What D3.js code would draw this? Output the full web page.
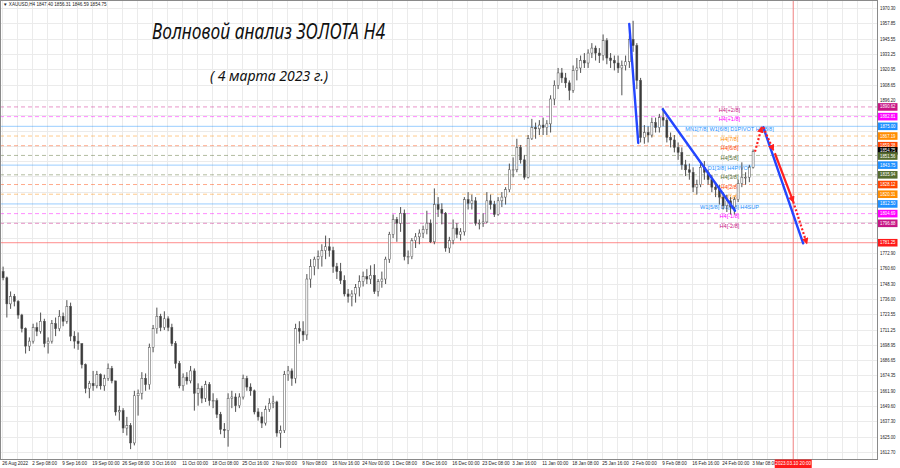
<!DOCTYPE html>
<html><head><meta charset="utf-8">
<script src="https://cdn.jsdelivr.net/npm/d3@7"></script>
<style>body{margin:0;background:#fff;} svg{display:block;}</style>
</head><body>
<svg id="c" width="900" height="468"></svg>
<script>
// ---------- DATA ----------
const timeLabels = ["26 Aug 2022","2 Sep 08:00","9 Sep 16:00","19 Sep 00:00","26 Sep 08:00","3 Oct 16:00","11 Oct 00:00","18 Oct 08:00","25 Oct 16:00","2 Nov 00:00","9 Nov 08:00","16 Nov 16:00","24 Nov 00:00","1 Dec 08:00","8 Dec 16:00","16 Dec 00:00","23 Dec 08:00","3 Jan 16:00","11 Jan 00:00","18 Jan 08:00","25 Jan 16:00","2 Feb 00:00","9 Feb 08:00","16 Feb 16:00","24 Feb 00:00","3 Mar 08:00"];
const priceTicks = ["1970.30","1957.85","1945.55","1933.25","1920.95","1908.65","1896.20","1883.90","1871.60","1859.30","1847.00","1834.70","1822.40","1810.10","1797.65","1785.20","1772.90","1760.60","1748.30","1736.00","1723.55","1711.25","1698.95","1686.65","1674.35","1661.90","1649.60","1637.30","1625.00","1612.70"];
// candles (each = 4 H4 bars), high / low / close
const firstOpen = 1758;
const highs = [1762,1754,1742,1740,1735,1724,1713,1705,1716,1717,1725,1720,1705,1719,1721,1727,1725,1735,1733,1710,1709,1700,1684,1670,1678,1678,1676,1675,1684,1682,1668,1650,1648,1641,1636,1662,1663,1677,1676,1700,1715,1729,1724,1726,1722,1716,1702,1686,1676,1677,1682,1680,1668,1666,1670,1669,1660,1656,1645,1636,1660,1662,1660,1660,1675,1674,1668,1663,1648,1645,1650,1656,1658,1654,1634,1678,1682,1680,1716,1718,1718,1756,1768,1770,1775,1780,1787,1785,1778,1765,1765,1755,1744,1743,1748,1755,1758,1760,1763,1764,1752,1758,1770,1790,1804,1802,1810,1808,1775,1785,1789,1792,1795,1807,1800,1825,1818,1813,1806,1786,1800,1797,1793,1818,1822,1820,1818,1800,1805,1822,1820,1815,1818,1822,1826,1845,1850,1865,1860,1852,1868,1881,1878,1880,1882,1880,1900,1912,1922,1922,1918,1912,1924,1930,1932,1934,1937,1942,1940,1938,1949,1946,1934,1932,1932,1928,1932,1948,1960,1942,1914,1876,1875,1882,1882,1885,1890,1882,1870,1868,1862,1858,1848,1845,1842,1832,1846,1847,1840,1836,1830,1828,1822,1820,1818,1818,1832,1846,1838,1844,1856.31];
const lows = [1751,1721,1728,1730,1720,1709,1692,1694,1700,1706,1708,1697,1692,1700,1706,1710,1714,1716,1702,1696,1695,1680,1660,1656,1662,1664,1663,1662,1670,1668,1642,1638,1628,1626,1615,1618,1642,1655,1662,1663,1693,1708,1710,1711,1710,1698,1680,1664,1662,1667,1668,1646,1650,1652,1653,1650,1648,1640,1627,1624,1617,1648,1645,1648,1655,1662,1658,1643,1638,1632,1634,1645,1648,1625,1616,1628,1670,1666,1668,1700,1702,1703,1745,1755,1760,1762,1768,1770,1757,1752,1748,1738,1733,1730,1733,1738,1746,1748,1748,1740,1738,1745,1748,1765,1785,1782,1790,1767,1764,1768,1777,1780,1785,1788,1781,1780,1802,1796,1774,1773,1780,1785,1783,1787,1808,1808,1795,1792,1794,1797,1808,1802,1803,1810,1812,1822,1834,1838,1845,1832,1833,1864,1865,1868,1868,1868,1870,1892,1905,1910,1906,1896,1902,1912,1918,1922,1922,1930,1928,1926,1928,1925,1922,1920,1918,1900,1920,1922,1935,1905,1862,1861,1862,1866,1870,1870,1875,1862,1858,1854,1848,1840,1835,1832,1822,1820,1826,1832,1828,1822,1818,1812,1808,1806,1804,1804,1814,1826,1828,1830,1841];
const closes = [1753,1732,1738,1734,1723,1712,1698,1702,1713,1710,1718,1700,1702,1716,1712,1722,1718,1730,1706,1702,1700,1683,1664,1668,1666,1675,1666,1672,1680,1670,1645,1646,1632,1634,1620,1658,1660,1672,1667,1697,1712,1722,1713,1720,1713,1700,1684,1666,1673,1670,1678,1660,1664,1656,1667,1654,1654,1643,1631,1630,1656,1657,1650,1657,1672,1665,1662,1645,1641,1636,1647,1652,1653,1628,1630,1675,1678,1672,1712,1710,1707,1752,1762,1768,1770,1775,1778,1775,1762,1758,1751,1740,1738,1740,1745,1750,1754,1752,1755,1742,1750,1752,1768,1788,1800,1797,1805,1770,1770,1783,1786,1789,1792,1797,1782,1812,1808,1805,1777,1783,1793,1788,1790,1816,1813,1815,1797,1797,1798,1815,1812,1804,1815,1818,1824,1840,1840,1858,1848,1834,1865,1874,1873,1876,1874,1877,1897,1908,1918,1914,1910,1904,1920,1922,1928,1926,1934,1938,1934,1932,1944,1930,1928,1926,1922,1924,1927,1945,1940,1912,1866,1870,1868,1878,1874,1882,1880,1866,1864,1858,1854,1844,1840,1838,1826,1828,1842,1838,1832,1826,1824,1818,1811,1815,1810,1816,1829,1834,1834,1842,1854.75];
const barsPerCandle = 4;
// Murrey levels
const levelPrices = [1890.62,1882.81,1875.00,1867.19,1859.38,1851.56,1843.75,1835.94,1828.12,1820.31,1812.50,1804.69,1796.88];
const levelNames = ["H4[+2/8]","H4[+1/8]","MN1[7/8] W1[6/8] D1PIVOT H4[8/8]","H4[7/8]","H4[6/8]","H4[5/8]","D1[3/8] H4PIVOT","H4[3/8]","H4[2/8]","H4[1/8]","W1[5/8] D1[2/8] H4SUP","H4[-1/8]","H4[-2/8]"];
const levelColors = ["#c71585","#ff00ff","#1e90ff","#ff8c00","#ff4500","#556b2f","#1e90ff","#556b2f","#ff4500","#ff8c00","#1e90ff","#ff00ff","#c71585"];
const levelDashed = [1,1,0,1,1,1,0,1,1,1,0,1,1];
const targetPrice = 1781.25;
const lastPrice = 1854.75;
// wave lines: [bar1, price1, bar2, price2]
const blueWaves = [[669.4,1957.4,679.0,1861.6],[705.1,1888.7,782.2,1807.0],[812.4,1874.2,854.9,1780.8]];
const redPath = [[803.5,1854.6,810.7,1874.2,1],[812.4,1874.2,823.0,1856.0,1],[824.7,1853.3,844.3,1814.3,0],[844.3,1814.3,858.7,1780.8,1]];
const futureBar = 844.3;
const futureLabel = "2023.03.10 20:00";
const header = "\u25BC XAUUSD,H4  1847.40 1856.31 1846.59 1854.75";
const title = "Волновой анализ ЗОЛОТА H4";
const subtitle = "( 4 марта 2023 г.)";

// ---------- CHART ----------
const PR = 877, PB = 459;
const svg = d3.select('#c');
const x = d3.scaleLinear().domain([0, 800]).range([1.7, 751.7]);
const y = d3.scaleLinear().domain([1607.06, 1976.74]).range([PB, 0]);

svg.append('rect').attr('width',900).attr('height',468).attr('fill','#fff');
const plot = svg.append('g');
// grid
const vGrid = d3.range(0, 940, 16).filter(n => x(n) < PR);
plot.selectAll('.vg').data(vGrid).enter().append('line')
  .attr('x1', d => Math.round(x(d))+0.5).attr('x2', d => Math.round(x(d))+0.5)
  .attr('y1', 0).attr('y2', PB).attr('stroke', '#ebebeb').attr('stroke-width', 1);
plot.selectAll('.hg').data(priceTicks).enter().append('line')
  .attr('x1', 0).attr('x2', PR)
  .attr('y1', d => Math.round(y(+d))+0.5).attr('y2', d => Math.round(y(+d))+0.5)
  .attr('stroke', '#ebebeb').attr('stroke-width', 1);

// levels
levelPrices.forEach((p, i) => {
  plot.append('line').attr('x1', 0).attr('x2', PR)
    .attr('y1', y(p)).attr('y2', y(p))
    .attr('stroke', levelColors[i]).attr('stroke-opacity', 0.45).attr('stroke-width', 1)
    .attr('stroke-dasharray', levelDashed[i] ? '4,3' : null);
});
plot.append('line').attr('x1', 0).attr('x2', PR).attr('y1', y(targetPrice)).attr('y2', y(targetPrice))
  .attr('stroke', '#ff5a5a').attr('stroke-opacity', 0.7).attr('stroke-width', 1);
plot.append('line').attr('x1', x(futureBar)).attr('x2', x(futureBar)).attr('y1', 0).attr('y2', PB)
  .attr('stroke', '#f08080').attr('stroke-width', 1);

// level names
levelPrices.forEach((p, i) => {
  plot.append('text').attr('x', x(776.3)).attr('y', y(p) + 2.6)
    .attr('text-anchor', 'middle').attr('dominant-baseline', 'central')
    .attr('font-family', 'Liberation Sans, Arial, sans-serif').attr('font-size', 5.6)
    .attr('fill', levelColors[i]).text(levelNames[i]);
});

// candles
const cw = 2;
const cg = plot.append('g');
highs.forEach((h, k) => {
  const o = k === 0 ? firstOpen : closes[k-1];
  const c = closes[k];
  const cx = x(k*barsPerCandle + 1.5);
  cg.append('line').attr('x1', cx).attr('x2', cx).attr('y1', y(h)).attr('y2', y(lows[k]))
    .attr('stroke', '#505050').attr('stroke-width', 1);
  const top = y(Math.max(o, c)), bot = y(Math.min(o, c));
  cg.append('rect').attr('x', cx - cw/2).attr('y', top).attr('width', cw).attr('height', Math.max(0.8, bot - top))
    .attr('fill', c >= o ? '#fff' : '#3a3a3a').attr('stroke', '#505050').attr('stroke-width', 0.5);
});

// wave lines
blueWaves.forEach(w => {
  plot.append('line').attr('x1', x(w[0])).attr('y1', y(w[1])).attr('x2', x(w[2])).attr('y2', y(w[3]))
    .attr('stroke', '#2446ff').attr('stroke-width', 2.4).attr('stroke-linecap', 'round');
});
const defs = svg.append('defs');
defs.append('marker').attr('id', 'ar').attr('viewBox', '0 0 10 10').attr('refX', 8).attr('refY', 5)
  .attr('markerWidth', 3).attr('markerHeight', 3).attr('orient', 'auto')
  .append('path').attr('d', 'M0,0 L10,5 L0,10 z').attr('fill', '#ff2020');
redPath.forEach(s => {
  plot.append('line').attr('x1', x(s[0])).attr('y1', y(s[1])).attr('x2', x(s[2])).attr('y2', y(s[3]))
    .attr('stroke', '#ff2020').attr('stroke-width', 2.2)
    .attr('stroke-dasharray', s[4] ? '2,2' : null).attr('marker-end', 'url(#ar)');
});

// frame
svg.append('rect').attr('x', 0.5).attr('y', 0.5).attr('width', PR).attr('height', PB)
  .attr('fill', 'none').attr('stroke', '#8a8a8a').attr('stroke-width', 1);

// colored price boxes (positions)
const boxes = levelPrices.map((p, i) => ({p, col: levelColors[i], yy: y(p)}));
boxes.push({p: lastPrice, col: '#000', yy: y(lastPrice) - 0.6});
boxes.push({p: targetPrice, col: '#ff1a1a', yy: y(targetPrice)});
boxes.find(b => b.p === 1851.56).yy += 0.6;
boxes.sort((a, b) => (a.p === 1851.56) - (b.p === 1851.56));

// right axis tick labels (those not covered by a price box)
const fAx = 'Liberation Sans, Arial, sans-serif';
const visTicks = priceTicks.filter(t => boxes.every(b => Math.abs(y(+t) - b.yy) > 5.5));
svg.selectAll('.pt').data(visTicks).enter().append('text')
  .attr('x', 880).attr('y', d => y(+d)).attr('dominant-baseline', 'central')
  .attr('font-family', fAx).attr('font-size', 5.2).attr('fill', '#222')
  .attr('textLength', 15.5).attr('lengthAdjust', 'spacingAndGlyphs').text(d => d);

boxes.forEach(b => {
  svg.append('rect').attr('x', 878).attr('y', b.yy - 3.8).attr('width', 19.5).attr('height', 7.6).attr('fill', b.col);
  svg.append('text').attr('x', 880).attr('y', b.yy).attr('dominant-baseline', 'central')
    .attr('font-family', fAx).attr('font-size', 4.8).attr('fill', '#fff')
    .attr('textLength', 15.5).attr('lengthAdjust', 'spacingAndGlyphs').text(b.p.toFixed(2));
});

// bottom time labels
svg.selectAll('.tl').data(timeLabels).enter().append('text')
  .attr('x', (d, i) => x(i*32) + 0.5).attr('y', 465.3)
  .attr('font-family', fAx).attr('font-size', 4.6).attr('fill', '#222')
  .text(d => d);
svg.append('rect').attr('x', x(futureBar) - 18.5).attr('y', 459.5).attr('width', 37).attr('height', 8.5).attr('fill', '#ff1a1a');
svg.append('text').attr('x', x(futureBar)).attr('y', 465.3).attr('text-anchor', 'middle')
  .attr('font-family', fAx).attr('font-size', 4.6).attr('fill', '#fff').text(futureLabel);

// header and titles
svg.append('text').attr('x', 3).attr('y', 6).attr('font-family', fAx).attr('font-size', 4.6).attr('fill', '#222').text(header);
svg.append('text').attr('x', 152).attr('y', 39).attr('font-family', 'Noto Sans, DejaVu Sans, sans-serif')
  .attr('font-style', 'italic').attr('font-size', 21).attr('fill', '#111')
  .attr('textLength', 233).attr('lengthAdjust', 'spacingAndGlyphs').text(title);
svg.append('text').attr('x', 210).attr('y', 81).attr('font-family', 'Noto Sans, DejaVu Sans, sans-serif')
  .attr('font-style', 'italic').attr('font-size', 14).attr('fill', '#111')
  .attr('textLength', 118).attr('lengthAdjust', 'spacingAndGlyphs').text(subtitle);
</script>
</body></html>
